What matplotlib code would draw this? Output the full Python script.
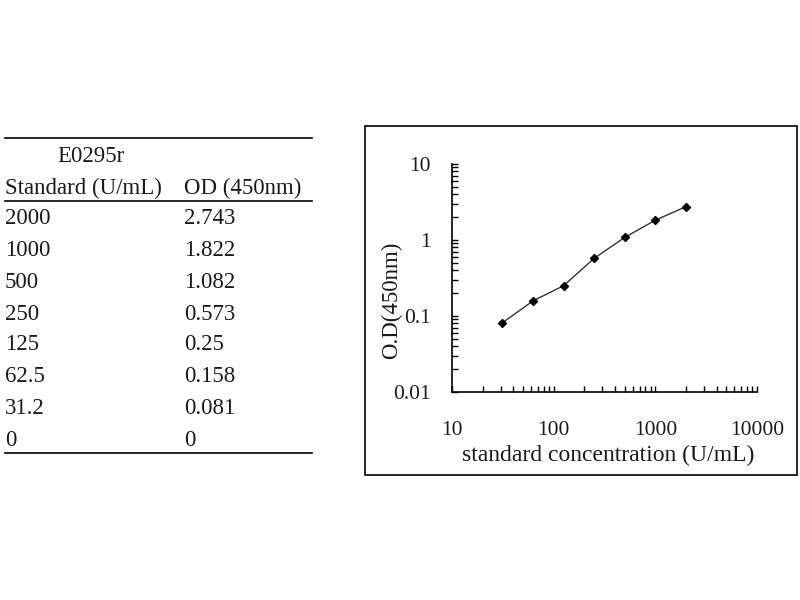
import matplotlib
matplotlib.use("Agg")
import matplotlib.pyplot as plt
from matplotlib.patches import Rectangle
from matplotlib.lines import Line2D
from matplotlib.ticker import LogLocator, FixedLocator, FixedFormatter, NullFormatter

plt.rcParams['font.family'] = ['Liberation Serif', 'DejaVu Serif']

kit_name = "E0295r"
col_headers = ["Standard (U/mL)", "OD (450nm)"]
standard_labels = ["2000", "1000", "500", "250", "125", "62.5", "31.2", "0"]
od_labels = ["2.743", "1.822", "1.082", "0.573", "0.25", "0.158", "0.081", "0"]
concentration = [2000, 1000, 500, 250, 125, 62.5, 31.2, 0]
od_values = [2.743, 1.822, 1.082, 0.573, 0.25, 0.158, 0.081, 0]
x_tick_vals = [10, 100, 1000, 10000]
x_tick_labels = ["10", "100", "1000", "10000"]
y_tick_vals = [0.01, 0.1, 1, 10]
y_tick_labels = ["0.01", "0.1", "1", "10"]

W, H = 800, 600
fig = plt.figure(figsize=(8, 6), dpi=100)
fig.patch.set_facecolor('white')

def fx(px):
    return px / W

def fy(py):
    return 1 - py / H

txt_color = '#1a1a1a'

# ---- table ----
fs_tab = 16.5
for yy in (138, 201, 453):
    fig.add_artist(Line2D([fx(5), fx(312)], [fy(yy), fy(yy)], color='black', lw=1.2))
fig.text(fx(57), fy(157), kit_name, fontsize=fs_tab, va='center', ha='left', color=txt_color)
fig.text(fx(5), fy(188), col_headers[0], fontsize=fs_tab, va='center', ha='left', color=txt_color)
fig.text(fx(184), fy(188), col_headers[1], fontsize=fs_tab, va='center', ha='left', color=txt_color)
row_y = [219, 250, 282, 314, 345, 377, 408, 440]
for i, (s, o) in enumerate(zip(standard_labels, od_labels)):
    fig.text(fx(5), fy(row_y[i]), s, fontsize=fs_tab, va='center', ha='left', color=txt_color)
    fig.text(fx(184), fy(row_y[i]), o, fontsize=fs_tab, va='center', ha='left', color=txt_color)

# ---- chart box ----
fig.add_artist(Rectangle((fx(365), fy(475)), (797 - 365) / W, (475 - 126) / H,
                         transform=fig.transFigure, fill=False, edgecolor='black', lw=1.2))

ax_l, ax_r, ax_t, ax_b = 452, 757, 164, 392
ax = fig.add_axes([fx(ax_l), fy(ax_b), (ax_r - ax_l) / W, (ax_b - ax_t) / H])
xs = [c for c, v in zip(concentration, od_values) if c > 0 and v > 0]
ys = [v for c, v in zip(concentration, od_values) if c > 0 and v > 0]
ax.plot(xs, ys, color='#333333', lw=1.0, marker='D', markersize=4.5,
        markerfacecolor='black', markeredgecolor='black')
ax.set_xscale('log')
ax.set_yscale('log')
ax.set_xlim(10, 10000)
ax.set_ylim(0.01, 10)
for s in ['top', 'right']:
    ax.spines[s].set_visible(False)
for s in ['left', 'bottom']:
    ax.spines[s].set_linewidth(1.2)
ax.xaxis.set_major_locator(FixedLocator(x_tick_vals))
ax.xaxis.set_major_formatter(FixedFormatter(x_tick_labels))
ax.yaxis.set_major_locator(FixedLocator(y_tick_vals))
ax.yaxis.set_major_formatter(FixedFormatter(y_tick_labels))
ax.xaxis.set_minor_locator(LogLocator(base=10, subs=range(2, 10)))
ax.yaxis.set_minor_locator(LogLocator(base=10, subs=range(2, 10)))
ax.xaxis.set_minor_formatter(NullFormatter())
ax.yaxis.set_minor_formatter(NullFormatter())
ax.tick_params(which='both', direction='in', length=4.5, width=1.0, colors='black')
ax.tick_params(axis='x', which='major', pad=21, labelsize=15.5, labelcolor=txt_color)
ax.tick_params(axis='y', which='major', pad=15, labelsize=15.5, labelcolor=txt_color)
ax.set_xlabel("standard concentration (U/mL)", fontsize=17, color=txt_color)
ax.set_ylabel("O.D(450nm)", fontsize=16.5, color=txt_color)
aw, ah = ax_r - ax_l, ax_b - ax_t
ax.xaxis.label.set_va('center')
ax.xaxis.set_label_coords((608 - ax_l) / aw, (ax_b - 455) / ah)
ax.yaxis.label.set_va('center')
ax.yaxis.set_label_coords((392 - ax_l) / aw, (ax_b - 300) / ah)
ax.patch.set_alpha(0)

fig.savefig("out.png", dpi=100, facecolor='white')
